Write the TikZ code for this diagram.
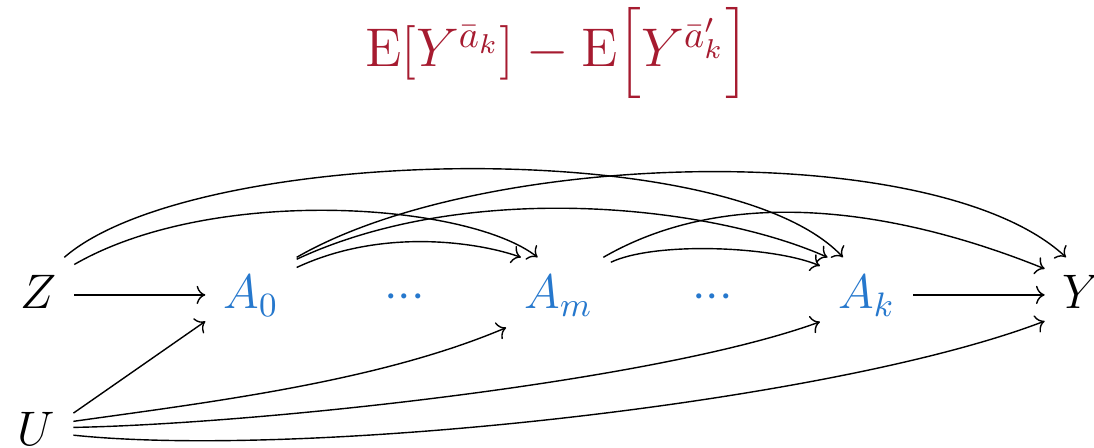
\RequirePackage{fix-cm}
\documentclass[tikz,border=0pt]{standalone}
\usepackage{amsmath}
\usetikzlibrary{arrows.meta, positioning, calc}

\definecolor{titlered}{RGB}{166,27,48}
\definecolor{treatblue}{RGB}{38,120,205}

\begin{document}
\begin{tikzpicture}[
        var/.style={inner sep=5pt, text height=9.5pt, text depth=1.5pt, anchor=base, font=\fontsize{13.8}{16}\selectfont},
        treat/.style={var, text=treatblue},
        link/.style={->},
    ]
    \useasboundingbox (0,0) rectangle (10.94,4.48);

    % Title
    \node[text=titlered, font=\fontsize{15.5}{18}\selectfont, anchor=base] (title) at (5.57,3.81)
        {$\mathrm{E}[Y^{\bar{a}_k}] - \mathrm{E}\Bigl[Y^{\bar{a}'_k}\Bigr]$};

    % Variables
    \node[var] (Z) at (0.38,1.39) {$Z$};
    \node[treat] (A0) at (2.51,1.39) {$A_0$};
    \node[treat] (Am) at (5.585,1.39) {$A_m$};
    \node[treat] (Ak) at (8.665,1.39) {$A_k$};
    \node[var] (Y) at (10.82,1.39) {$Y$};
    \node[var] (U) at (0.365,0.02) {$U$};
    \node[treat] (dots1) at ($(A0.base)!0.5!(Am.base)$) {${\cdot}{\cdot}{\cdot}$};
    \node[treat] (dots2) at ($(Am.base)!0.5!(Ak.base)$) {${\cdot}{\cdot}{\cdot}$};

    % Straight edges
    \draw[link] (Z) -- (A0);
    \draw[link] (Ak) -- (Y);
    \draw[link] (U.27) -- (A0.210);

    % Arcs above
    \draw[link] (Z.55) to[out=41, in=133, looseness=0.56] (Ak.122);
    \draw[link] (Z.40) to[out=30, in=142, out looseness=0.88, in looseness=0.49] (Am.119);
    \draw[link] (A0.north east) to[out=30, in=137, out looseness=0.73, in looseness=0.58] (Y.113);
    \draw[link] (A0.38) to[out=25, in=156, out looseness=0.91, in looseness=0.62] (Ak.136);
    \draw[link] (A0.31) to[out=25, in=160, out looseness=1.12, in looseness=0.45] (Am.135);
    \draw[link] (Am.40) to[out=30, in=158, out looseness=1.04, in looseness=0.54] (Y.145);
    \draw[link] (Am.32) to[out=25, in=157, looseness=0.61] (Ak.148);

    % Arcs below
    \draw[link] (U.16) to[out=8, in=203, looseness=0.8] (Am.212);
    \draw[link] (U.7) to[out=1, in=200, looseness=0.6] (Ak.210);
    \draw[link] (U.-5) to[out=-6, in=201, looseness=0.6] (Y.215);
\end{tikzpicture}
\end{document}
